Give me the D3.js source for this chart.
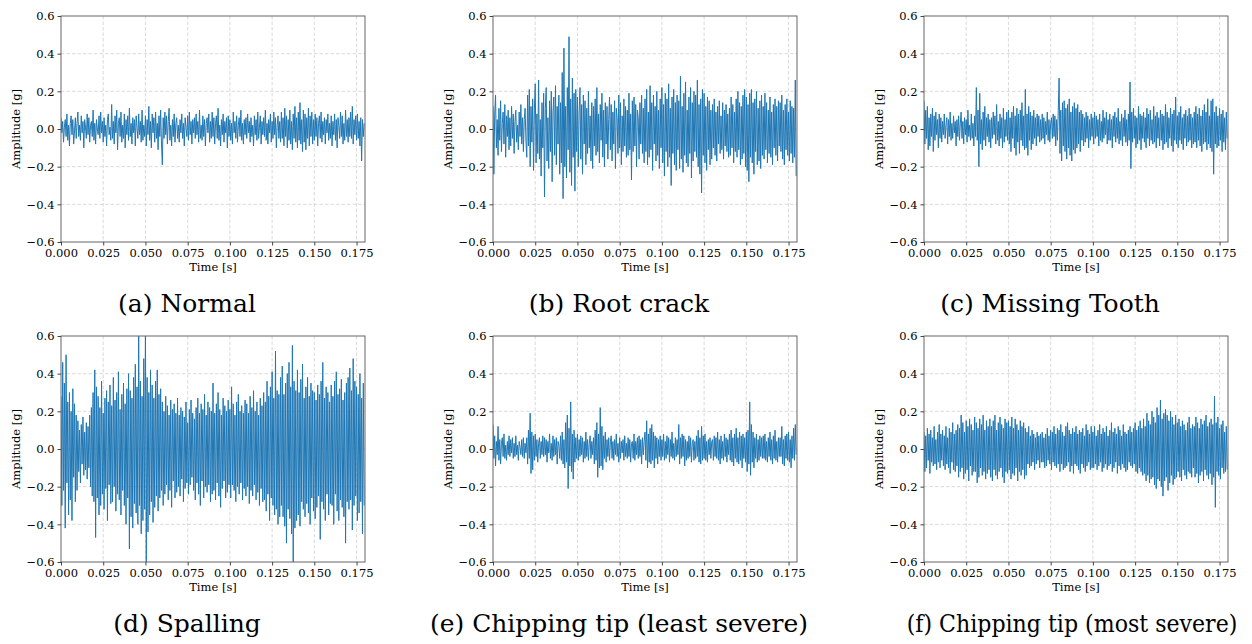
<!DOCTYPE html>
<html>
<head>
<meta charset="utf-8">
<script src="https://cdn.jsdelivr.net/npm/d3@7"></script>
<style>
  body { margin: 0; background: #fff; }
  svg { display: block; }
  .tick text { font-family: "DejaVu Serif", "Liberation Serif", serif; font-size: 11.5px; fill: #000; }
  .tick line { stroke: #444; }
  .domain { display: none; }
  .lbl { font-family: "DejaVu Serif", "Liberation Serif", serif; font-size: 11.5px; }
  .cap { font-family: "DejaVu Serif", "Liberation Serif", serif; font-size: 25px; }
</style>
</head>
<body>
<svg width="1252" height="644"></svg>
<script>
const svg = d3.select("svg")

// sampling interval of the records (s); 20 samples per 0.01 s row below
const dt = 0.0005

// amplitudes in g
const normal = [
  0.06,-0.02,0.04,-0.07,0.01,0.05,-0.04,0.08,-0.06,0.02,-0.09,0.03,0.07,-0.03,0.05,-0.08,-0.01,0.06,-0.05,0.03,
  0.09,-0.04,0.02,-0.06,0.07,-0.02,0.04,-0.10,0.05,0.01,-0.05,0.08,-0.03,0.06,-0.07,0.02,0.04,-0.04,0.10,-0.06,
  0.03,-0.08,0.05,0.00,-0.03,0.07,-0.05,0.09,-0.02,0.04,-0.07,0.06,-0.04,0.02,-0.09,0.05,0.08,-0.03,0.01,-0.06,
  0.13,-0.05,0.04,-0.08,0.07,-0.02,0.10,-0.11,0.03,0.06,-0.04,0.09,-0.07,0.02,-0.05,0.08,-0.10,0.05,-0.03,0.07,
  -0.06,0.11,-0.04,0.03,-0.08,0.06,-0.02,0.05,-0.09,0.07,0.01,-0.05,0.08,-0.03,0.04,-0.07,0.10,-0.06,0.02,-0.04,
  0.07,-0.09,0.05,-0.03,0.12,-0.06,0.04,-0.10,0.08,-0.02,0.06,-0.07,0.09,-0.05,0.03,-0.11,0.07,-0.04,0.10,-0.08,
  -0.19,0.06,-0.05,0.09,-0.03,0.07,-0.08,0.04,0.11,-0.06,0.02,-0.09,0.05,-0.04,0.08,-0.07,0.03,0.06,-0.05,0.02,
  -0.07,0.05,-0.02,0.08,-0.05,0.03,-0.09,0.06,0.01,-0.04,0.07,-0.06,0.09,-0.03,0.04,-0.08,0.05,-0.02,0.06,-0.05,
  0.08,-0.03,0.04,-0.07,0.10,-0.05,0.02,-0.06,0.07,-0.04,0.05,-0.09,0.03,0.06,-0.02,0.08,-0.07,0.04,-0.05,0.09,
  -0.04,0.06,-0.08,0.03,0.07,-0.05,0.11,-0.06,0.02,-0.09,0.05,-0.03,0.08,-0.07,0.04,-0.02,0.06,-0.10,0.07,-0.04,
  0.05,-0.06,0.03,-0.08,0.09,-0.02,0.04,-0.05,0.07,-0.07,0.02,0.06,-0.04,0.10,-0.06,0.03,-0.08,0.05,-0.03,0.06,
  -0.05,0.08,-0.02,0.04,-0.07,0.06,-0.04,0.02,-0.09,0.07,-0.03,0.05,-0.06,0.09,-0.05,0.01,0.07,-0.08,0.04,-0.03,
  0.06,-0.04,0.10,-0.06,0.03,-0.08,0.05,-0.02,0.08,-0.07,0.04,-0.05,0.09,-0.03,0.06,-0.10,0.02,0.07,-0.05,0.04,
  -0.07,0.09,-0.05,0.06,-0.09,0.11,-0.04,0.07,-0.10,0.05,-0.06,0.10,-0.08,0.04,-0.11,0.08,-0.05,0.12,-0.07,0.06,
  -0.10,0.09,-0.06,0.14,-0.08,0.05,-0.12,0.10,-0.07,0.08,-0.11,0.06,-0.05,0.11,-0.09,0.07,-0.04,0.09,-0.08,0.05,
  -0.06,0.08,-0.04,0.06,-0.09,0.03,0.07,-0.05,0.09,-0.07,0.04,-0.03,0.06,-0.08,0.05,-0.02,0.08,-0.06,0.03,-0.05,
  0.07,-0.09,0.04,-0.03,0.08,-0.06,0.05,-0.10,0.06,0.02,-0.05,0.09,-0.04,0.07,-0.08,0.03,-0.06,0.10,-0.04,0.05,
  -0.07,0.06,-0.04,0.09,-0.05,0.12,-0.08,0.05,-0.03,0.07,-0.06,0.08,-0.05,0.04,-0.09,0.06,-0.17,0.05,-0.04,0.03
]

const rootCrack = [
  0.12,-0.24,0.08,0.18,-0.10,0.05,-0.14,0.11,-0.06,0.15,-0.12,0.03,0.09,-0.08,0.13,-0.15,0.07,-0.04,0.10,-0.11,
  0.06,-0.09,0.12,-0.05,0.08,-0.13,0.04,0.10,-0.07,0.02,-0.11,0.09,-0.04,0.13,-0.08,0.06,-0.12,0.05,0.11,-0.06,
  -0.15,0.18,-0.09,0.21,-0.20,0.12,-0.07,0.16,-0.22,0.10,0.24,-0.18,0.08,-0.13,0.26,-0.16,0.05,-0.25,0.14,-0.10,
  0.19,-0.36,0.11,0.22,-0.17,0.06,-0.21,0.15,-0.12,0.20,-0.28,0.09,0.17,-0.14,0.23,-0.19,0.12,-0.08,0.18,-0.24,
  0.14,-0.18,0.30,-0.37,0.43,-0.20,0.12,-0.26,0.22,-0.11,0.49,-0.23,0.16,-0.30,0.27,-0.15,0.19,-0.33,0.21,-0.12,
  0.17,-0.20,0.09,0.22,-0.16,0.13,-0.24,0.18,-0.08,0.15,-0.19,0.11,-0.13,0.20,-0.10,0.07,-0.17,0.14,-0.21,0.12,
  -0.09,0.16,-0.14,0.22,-0.12,0.08,-0.18,0.13,-0.06,0.19,-0.15,0.10,-0.20,0.14,-0.08,0.12,-0.16,0.05,0.17,-0.11,
  0.13,-0.17,0.09,-0.08,0.15,-0.21,0.11,0.06,-0.13,0.18,-0.10,0.14,-0.19,0.07,-0.12,0.16,-0.09,0.12,-0.15,0.10,
  -0.14,0.19,-0.11,0.08,-0.27,0.15,-0.12,0.17,-0.09,0.13,-0.20,0.10,0.06,-0.16,0.14,-0.08,0.18,-0.13,0.11,-0.18,
  0.16,-0.12,0.21,-0.19,0.09,-0.15,0.23,-0.11,0.14,-0.22,0.18,-0.08,0.12,-0.17,0.20,-0.14,0.10,-0.21,0.16,-0.10,
  0.22,-0.18,0.13,-0.25,0.19,-0.12,0.16,-0.20,0.24,-0.15,0.11,-0.30,0.17,-0.13,0.21,-0.19,0.14,-0.22,0.18,-0.11,
  0.15,-0.21,0.28,-0.16,0.12,-0.23,0.19,-0.14,0.25,-0.18,0.10,-0.20,0.17,-0.13,0.22,-0.26,0.14,-0.17,0.20,-0.12,
  0.18,-0.15,0.26,-0.20,0.13,-0.24,0.16,-0.34,0.21,-0.14,0.19,-0.18,0.12,-0.22,0.17,-0.11,0.15,-0.19,0.10,-0.16,
  0.13,-0.10,0.16,-0.14,0.09,-0.17,0.12,-0.08,0.15,-0.13,0.07,-0.11,0.14,-0.16,0.10,-0.09,0.13,-0.12,0.08,-0.15,
  0.11,-0.14,0.17,-0.10,0.13,-0.18,0.09,-0.12,0.16,-0.15,0.20,-0.11,0.14,-0.19,0.12,-0.16,0.18,-0.13,0.21,-0.20,
  0.17,-0.22,0.13,-0.28,0.19,-0.15,0.21,-0.18,0.14,-0.24,0.16,-0.12,0.20,-0.19,0.11,-0.17,0.15,-0.21,0.18,-0.14,
  0.12,-0.16,0.19,-0.11,0.14,-0.18,0.10,-0.13,0.17,-0.15,0.09,-0.19,0.13,-0.10,0.16,-0.14,0.12,-0.17,0.15,-0.09,
  0.14,-0.12,0.18,-0.16,0.10,-0.19,0.13,-0.11,0.16,-0.14,0.09,-0.17,0.15,-0.13,0.12,-0.18,0.11,-0.15,0.26,-0.25
]

const missingTooth = [
  0.15,-0.08,0.10,-0.05,0.12,-0.11,0.06,-0.09,0.08,-0.04,0.11,-0.12,0.07,-0.06,0.09,-0.03,0.05,-0.10,0.08,-0.05,
  0.06,-0.07,0.04,-0.03,0.08,-0.05,0.02,0.06,-0.08,0.05,-0.04,0.09,-0.06,0.03,-0.05,0.07,-0.02,0.04,-0.09,0.05,
  -0.04,0.07,-0.06,0.03,0.09,-0.05,0.04,-0.08,0.06,-0.03,0.05,-0.07,0.10,-0.04,0.02,-0.06,0.08,-0.05,0.03,-0.09,
  0.07,-0.04,0.22,-0.06,0.10,-0.20,0.19,-0.08,0.05,-0.11,0.09,-0.06,0.12,-0.09,0.06,-0.04,0.08,-0.07,0.05,-0.10,
  0.06,-0.05,0.09,-0.03,0.07,-0.08,0.13,-0.06,0.04,-0.09,0.08,-0.05,0.06,-0.10,0.11,-0.07,0.05,-0.04,0.09,-0.06,
  0.10,-0.08,0.06,-0.12,0.09,-0.05,0.12,-0.10,0.07,-0.14,0.11,-0.07,0.08,-0.13,0.10,-0.06,0.14,-0.09,0.07,-0.11,
  0.21,-0.10,0.08,-0.14,0.12,-0.06,0.09,-0.11,0.07,-0.08,0.10,-0.05,0.06,-0.09,0.08,-0.04,0.07,-0.07,0.05,-0.06,
  0.08,-0.05,0.06,-0.08,0.04,-0.03,0.09,-0.06,0.05,-0.07,0.03,0.06,-0.05,0.08,-0.04,0.07,-0.09,0.05,-0.06,0.10,
  0.27,-0.13,0.10,-0.17,0.14,-0.09,0.15,-0.12,0.11,-0.16,0.13,-0.10,0.16,-0.14,0.09,-0.17,0.12,-0.11,0.14,-0.13,
  0.11,-0.10,0.13,-0.08,0.09,-0.12,0.10,-0.06,0.08,-0.09,0.06,-0.07,0.09,-0.05,0.07,-0.10,0.05,-0.06,0.08,-0.04,
  0.06,-0.08,0.09,-0.05,0.07,-0.04,0.05,-0.09,0.08,-0.06,0.04,-0.07,0.10,-0.05,0.06,-0.03,0.09,-0.08,0.05,-0.06,
  0.08,-0.06,0.05,-0.10,0.07,-0.04,0.09,-0.07,0.06,-0.05,0.11,-0.08,0.04,-0.06,0.08,-0.09,0.06,-0.04,0.10,-0.07,
  0.05,-0.09,0.08,-0.06,0.25,-0.21,0.09,-0.07,0.11,-0.05,0.07,-0.10,0.06,-0.08,0.12,-0.06,0.08,-0.11,0.07,-0.05,
  0.09,-0.07,0.06,-0.10,0.11,-0.05,0.08,-0.09,0.10,-0.06,0.05,-0.08,0.12,-0.07,0.07,-0.10,0.09,-0.05,0.06,-0.09,
  0.10,-0.06,0.08,-0.11,0.07,-0.08,0.13,-0.07,0.09,-0.10,0.06,-0.05,0.11,-0.09,0.08,-0.12,0.10,-0.06,0.17,-0.08,
  0.07,-0.10,0.09,-0.06,0.12,-0.08,0.06,-0.11,0.08,-0.05,0.10,-0.09,0.07,-0.07,0.11,-0.06,0.08,-0.10,0.06,-0.08,
  0.09,-0.07,0.12,-0.10,0.08,-0.06,0.11,-0.09,0.07,-0.12,0.10,-0.08,0.13,-0.07,0.09,-0.11,0.16,-0.08,0.07,-0.10,
  0.15,-0.12,0.16,-0.24,0.09,-0.08,0.12,-0.10,0.07,-0.09,0.11,-0.06,0.08,-0.12,0.10,-0.07,0.06,-0.11,0.09,-0.05
]

const spalling = [
  0.28,-0.30,0.46,-0.22,0.35,-0.42,0.50,-0.18,0.25,-0.35,0.30,-0.27,0.20,-0.38,0.32,-0.15,0.24,-0.28,0.18,-0.22,
  0.15,-0.12,0.10,-0.18,0.13,-0.08,0.17,-0.14,0.09,-0.11,0.14,-0.16,0.12,-0.10,0.18,-0.20,0.22,-0.25,0.30,-0.28,
  0.42,-0.47,0.33,-0.26,0.28,-0.35,0.22,-0.30,0.36,-0.24,0.19,-0.32,0.27,-0.21,0.31,-0.38,0.25,-0.19,0.34,-0.29,
  0.23,-0.28,0.38,-0.20,0.26,-0.33,0.30,-0.24,0.41,-0.27,0.21,-0.35,0.29,-0.22,0.35,-0.30,0.24,-0.40,0.32,-0.26,
  0.40,-0.53,0.31,-0.36,0.27,-0.42,0.38,-0.29,0.45,-0.34,0.33,-0.40,0.62,-0.30,0.36,-0.45,0.28,-0.38,0.48,-0.32,
  0.65,-0.60,0.38,-0.44,0.30,-0.35,0.42,-0.28,0.34,-0.39,0.27,-0.31,0.36,-0.25,0.42,-0.33,0.29,-0.26,0.32,-0.22,
  0.25,-0.30,0.20,-0.24,0.28,-0.19,0.23,-0.27,0.18,-0.22,0.26,-0.31,0.21,-0.17,0.24,-0.26,0.19,-0.23,0.27,-0.20,
  0.18,-0.25,0.22,-0.16,0.20,-0.28,0.17,-0.21,0.25,-0.18,0.14,-0.24,0.21,-0.19,0.26,-0.15,0.19,-0.22,0.16,-0.27,
  0.22,-0.18,0.27,-0.24,0.19,-0.30,0.24,-0.17,0.21,-0.26,0.29,-0.20,0.18,-0.23,0.25,-0.19,0.22,-0.28,0.20,-0.24,
  0.35,-0.22,0.19,-0.27,0.24,-0.18,0.30,-0.25,0.21,-0.31,0.18,-0.21,0.27,-0.17,0.23,-0.26,0.20,-0.23,0.26,-0.19,
  0.21,-0.26,0.33,-0.19,0.24,-0.22,0.18,-0.28,0.25,-0.20,0.29,-0.24,0.20,-0.18,0.23,-0.27,0.19,-0.21,0.26,-0.25,
  0.24,-0.20,0.19,-0.29,0.28,-0.22,0.22,-0.25,0.31,-0.19,0.20,-0.27,0.25,-0.23,0.18,-0.30,0.27,-0.21,0.23,-0.28,
  0.30,-0.27,0.25,-0.33,0.36,-0.24,0.28,-0.38,0.33,-0.26,0.41,-0.30,0.27,-0.35,0.52,-0.32,0.31,-0.40,0.29,-0.36,
  0.38,-0.30,0.44,-0.36,0.29,-0.41,0.35,-0.50,0.40,-0.32,0.46,-0.37,0.33,-0.45,0.55,-0.60,0.36,-0.42,0.31,-0.38,
  0.42,-0.35,0.30,-0.41,0.37,-0.28,0.45,-0.32,0.27,-0.36,0.33,-0.29,0.38,-0.34,0.28,-0.40,0.35,-0.26,0.31,-0.33,
  0.30,-0.37,0.26,-0.31,0.34,-0.25,0.29,-0.48,0.36,-0.28,0.46,-0.32,0.27,-0.38,0.33,-0.24,0.30,-0.35,0.25,-0.29,
  0.34,-0.30,0.28,-0.40,0.36,-0.24,0.41,-0.33,0.29,-0.38,0.32,-0.27,0.37,-0.31,0.26,-0.36,0.30,-0.50,0.35,-0.28,
  0.38,-0.32,0.43,-0.27,0.31,-0.43,0.48,-0.30,0.36,-0.25,0.33,-0.38,0.29,-0.34,0.40,-0.28,0.27,-0.45,0.35,-0.30
]

const chippingLeast = [
  0.13,-0.05,0.07,-0.09,0.04,-0.03,0.12,-0.06,0.05,-0.08,0.03,0.06,-0.04,0.08,-0.05,0.02,-0.06,0.04,-0.03,0.07,
  -0.04,0.05,-0.02,0.06,-0.05,0.03,-0.04,0.07,-0.03,0.02,-0.06,0.04,0.01,-0.03,0.05,-0.04,0.06,-0.05,0.03,-0.02,
  0.06,-0.08,0.10,-0.05,0.19,-0.13,0.09,-0.11,0.07,-0.06,0.08,-0.04,0.05,-0.07,0.03,0.06,-0.05,0.04,-0.03,0.07,
  -0.04,0.06,-0.03,0.05,-0.07,0.04,-0.02,0.08,-0.05,0.03,-0.06,0.07,-0.04,0.05,-0.03,0.06,-0.08,0.04,0.02,-0.05,
  0.07,-0.06,0.09,-0.08,0.05,-0.10,0.14,-0.07,0.18,-0.21,0.11,-0.09,0.25,-0.12,0.08,-0.16,0.10,-0.07,0.06,-0.05,
  0.08,-0.06,0.05,-0.04,0.07,-0.03,0.06,-0.07,0.04,-0.05,0.09,-0.04,0.05,-0.06,0.03,0.07,-0.05,0.04,-0.03,0.06,
  -0.08,0.10,-0.06,0.14,-0.15,0.08,-0.10,0.22,-0.09,0.12,-0.11,0.07,-0.05,0.09,-0.07,0.05,-0.04,0.06,-0.06,0.04,
  0.07,-0.05,0.04,-0.06,0.05,-0.03,0.08,-0.04,0.03,-0.07,0.06,-0.05,0.04,-0.02,0.05,-0.06,0.07,-0.04,0.03,-0.05,
  0.06,-0.04,0.05,-0.07,0.03,0.04,-0.05,0.08,-0.06,0.04,-0.03,0.06,-0.05,0.07,-0.04,0.05,-0.08,0.06,-0.03,0.04,
  0.09,-0.06,0.15,-0.10,0.08,-0.07,0.11,-0.08,0.13,-0.06,0.09,-0.10,0.07,-0.05,0.06,-0.08,0.05,-0.04,0.07,-0.06,
  0.05,-0.04,0.08,-0.06,0.04,-0.05,0.07,-0.03,0.06,-0.07,0.05,-0.04,0.09,-0.05,0.03,-0.06,0.06,-0.04,0.05,-0.03,
  0.13,-0.08,0.06,-0.05,0.08,-0.04,0.07,-0.09,0.05,-0.06,0.04,-0.05,0.07,-0.04,0.06,-0.07,0.03,0.05,-0.06,0.04,
  -0.05,0.07,-0.04,0.10,-0.07,0.06,-0.08,0.12,-0.06,0.07,-0.05,0.08,-0.06,0.04,-0.07,0.05,-0.03,0.06,-0.05,0.04,
  0.05,-0.06,0.07,-0.04,0.06,-0.05,0.09,-0.06,0.05,-0.08,0.07,-0.05,0.04,-0.06,0.08,-0.04,0.06,-0.07,0.05,-0.03,
  0.08,-0.06,0.10,-0.07,0.06,-0.09,0.08,-0.05,0.11,-0.07,0.06,-0.08,0.09,-0.06,0.07,-0.10,0.08,-0.05,0.06,-0.07,
  0.09,-0.12,0.10,-0.08,0.25,-0.14,0.13,-0.07,0.09,-0.10,0.06,-0.05,0.08,-0.07,0.05,-0.06,0.07,-0.04,0.06,-0.05,
  0.07,-0.05,0.08,-0.06,0.04,-0.07,0.06,-0.04,0.09,-0.06,0.05,-0.08,0.07,-0.05,0.10,-0.06,0.04,-0.07,0.06,-0.04,
  0.06,-0.04,0.12,-0.08,0.05,-0.09,0.07,-0.05,0.08,-0.06,0.09,-0.07,0.05,-0.10,0.07,-0.05,0.11,-0.06,0.13,-0.03
]

const chippingMost = [
  0.09,-0.12,0.07,-0.10,0.11,-0.06,0.08,-0.13,0.10,-0.07,0.06,-0.09,0.12,-0.08,0.05,-0.11,0.09,-0.07,0.13,-0.10,
  0.08,-0.06,0.10,-0.09,0.07,-0.11,0.12,-0.08,0.06,-0.10,0.11,-0.13,0.09,-0.07,0.14,-0.11,0.08,-0.12,0.10,-0.09,
  0.13,-0.15,0.11,-0.12,0.18,-0.10,0.14,-0.16,0.09,-0.13,0.15,-0.11,0.12,-0.17,0.16,-0.09,0.13,-0.14,0.10,-0.12,
  0.17,-0.12,0.14,-0.18,0.11,-0.15,0.16,-0.10,0.13,-0.14,0.18,-0.12,0.10,-0.16,0.15,-0.13,0.12,-0.11,0.16,-0.15,
  0.12,-0.17,0.15,-0.11,0.18,-0.14,0.10,-0.16,0.14,-0.12,0.17,-0.10,0.13,-0.15,0.11,-0.18,0.16,-0.12,0.14,-0.13,
  0.15,-0.11,0.12,-0.16,0.17,-0.13,0.11,-0.14,0.16,-0.10,0.13,-0.17,0.10,-0.12,0.15,-0.14,0.12,-0.11,0.14,-0.16,
  0.11,-0.14,0.09,-0.08,0.12,-0.10,0.07,-0.09,0.10,-0.07,0.08,-0.11,0.06,-0.08,0.09,-0.06,0.07,-0.10,0.08,-0.07,
  0.09,-0.07,0.06,-0.10,0.08,-0.09,0.11,-0.06,0.07,-0.08,0.10,-0.11,0.09,-0.07,0.12,-0.09,0.08,-0.10,0.11,-0.08,
  0.10,-0.12,0.13,-0.08,0.09,-0.11,0.07,-0.10,0.12,-0.09,0.14,-0.07,0.10,-0.12,0.08,-0.09,0.11,-0.13,0.09,-0.08,
  0.12,-0.09,0.08,-0.11,0.10,-0.13,0.09,-0.08,0.11,-0.10,0.07,-0.12,0.13,-0.09,0.10,-0.07,0.08,-0.11,0.12,-0.10,
  0.09,-0.10,0.12,-0.08,0.07,-0.11,0.10,-0.09,0.13,-0.07,0.08,-0.12,0.11,-0.10,0.09,-0.08,0.12,-0.11,0.07,-0.09,
  0.10,-0.08,0.14,-0.12,0.09,-0.10,0.11,-0.07,0.08,-0.13,0.12,-0.09,0.10,-0.11,0.07,-0.08,0.13,-0.10,0.09,-0.12,
  0.08,-0.11,0.10,-0.07,0.12,-0.09,0.09,-0.10,0.11,-0.08,0.14,-0.12,0.10,-0.13,0.12,-0.10,0.15,-0.12,0.11,-0.14,
  0.16,-0.13,0.12,-0.17,0.19,-0.14,0.15,-0.18,0.13,-0.16,0.20,-0.15,0.17,-0.19,0.14,-0.21,0.22,-0.16,0.18,-0.17,
  0.26,-0.20,0.16,-0.25,0.19,-0.17,0.21,-0.15,0.18,-0.22,0.15,-0.18,0.20,-0.14,0.17,-0.19,0.13,-0.16,0.18,-0.15,
  0.14,-0.12,0.16,-0.15,0.12,-0.17,0.15,-0.11,0.13,-0.14,0.10,-0.16,0.14,-0.12,0.17,-0.13,0.11,-0.15,0.13,-0.10,
  0.12,-0.15,0.17,-0.13,0.14,-0.18,0.11,-0.14,0.16,-0.12,0.13,-0.17,0.15,-0.11,0.18,-0.14,0.12,-0.16,0.14,-0.13,
  0.16,-0.19,0.13,-0.15,0.28,-0.31,0.14,-0.12,0.17,-0.14,0.11,-0.16,0.13,-0.10,0.15,-0.13,0.09,-0.12,0.12,-0.11
]

const series = [normal, rootCrack, missingTooth, spalling, chippingLeast, chippingMost]
const captions = ["(a) Normal", "(b) Root crack", "(c) Missing Tooth",
  "(d) Spalling", "(e) Chipping tip (least severe)", "(f) Chipping tip (most severe)"]
const captionWidths = [141, 185, 225, 148, 378, 331]
const captionShift = [0, 0, 0, 0, 0, 22]

const xTicks = [0, 0.025, 0.05, 0.075, 0.1, 0.125, 0.15, 0.175]
const yTicks = [-0.6, -0.4, -0.2, 0, 0.2, 0.4, 0.6]

const colX = [61, 493, 924]
const rowY = [16, 336]
const w = 304, h = 226

const x = d3.scaleLinear().domain([0, 0.18]).range([0, w])
const y = d3.scaleLinear().domain([-0.6, 0.6]).range([h, 0])

const line = d3.line()
  .x((d, i) => x(i * dt))
  .y(d => y(d))

series.forEach((data, k) => {
  const col = k % 3, row = Math.floor(k / 3)
  const g = svg.append("g")
    .attr("transform", `translate(${colX[col]},${rowY[row]})`)

  // grid
  g.append("g").selectAll("line").data(xTicks.slice(1)).join("line")
    .attr("x1", d => x(d)).attr("x2", d => x(d))
    .attr("y1", 0).attr("y2", h)
    .attr("stroke", "#d0d0d0").attr("stroke-width", 0.8)
    .attr("stroke-dasharray", "3.5,2")
  g.append("g").selectAll("line").data(yTicks.slice(1, -1)).join("line")
    .attr("x1", 0).attr("x2", w)
    .attr("y1", d => y(d)).attr("y2", d => y(d))
    .attr("stroke", "#d0d0d0").attr("stroke-width", 0.8)
    .attr("stroke-dasharray", "3.5,2")

  g.append("clipPath").attr("id", "clip" + k)
    .append("rect").attr("width", w).attr("height", h)

  g.append("path").datum(data)
    .attr("clip-path", `url(#clip${k})`)
    .attr("fill", "none")
    .attr("stroke", "#1f77b4")
    .attr("stroke-width", 1.0)
    .attr("stroke-linejoin", "round")
    .attr("d", line)

  g.append("rect").attr("width", w).attr("height", h)
    .attr("fill", "none").attr("stroke", "#666").attr("stroke-width", 1)

  g.append("g").attr("transform", `translate(0,${h})`)
    .call(d3.axisBottom(x).tickValues(xTicks).tickFormat(d3.format(".3f"))
      .tickSize(3.5).tickPadding(3))
  g.append("g")
    .call(d3.axisLeft(y).tickValues(yTicks).tickFormat(d3.format(".1f"))
      .tickSize(3.5).tickPadding(3))

  g.append("text").attr("class", "lbl")
    .attr("x", w / 2).attr("y", h + 29)
    .attr("text-anchor", "middle")
    .text("Time [s]")
  g.append("text").attr("class", "lbl")
    .attr("transform", `translate(-41,${h / 2}) rotate(-90)`)
    .attr("text-anchor", "middle")
    .text("Amplitude [g]")

  // caption: squeeze horizontally to the width the LaTeX caption takes
  const cap = g.append("text").attr("class", "cap")
    .attr("text-anchor", "middle")
    .text(captions[k])
  const natural = cap.node().getComputedTextLength()
  const sx = Math.min(1, captionWidths[k] / natural)
  cap.attr("transform", `translate(${w / 2 - 26 + captionShift[k]},${h + 70}) scale(${sx},1)`)
})
</script>
</body>
</html>
